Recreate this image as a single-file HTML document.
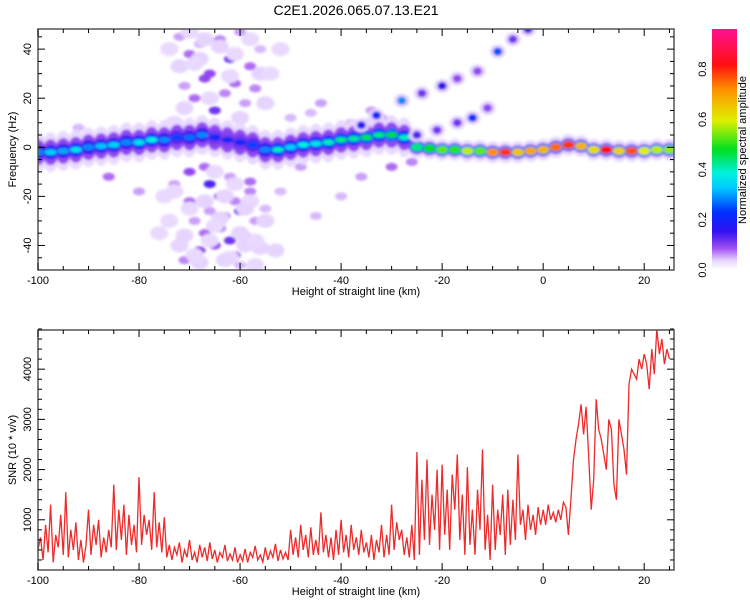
<!DOCTYPE html>
<html><head><meta charset="utf-8">
<style>
html,body{margin:0;padding:0;background:#fff;}
svg text{font-family:"Liberation Sans",sans-serif;}
</style></head>
<body>
<svg id="chart" width="750" height="600" viewBox="0 0 750 600" xmlns="http://www.w3.org/2000/svg">
<defs>
<clipPath id="clipTop"><rect x="38" y="29" width="636" height="241"/></clipPath>
<clipPath id="clipBot"><rect x="38" y="330" width="636" height="240"/></clipPath>
<filter id="blur1" x="-50%" y="-50%" width="200%" height="200%"><feGaussianBlur stdDeviation="1.3"/></filter>
<linearGradient id="cbar" x1="0" y1="1" x2="0" y2="0">
<stop offset="0" stop-color="#ffffff"/><stop offset="0.04" stop-color="#e6d4ff"/><stop offset="0.09" stop-color="#a050f0"/>
<stop offset="0.16" stop-color="#3010f0"/><stop offset="0.24" stop-color="#0030ff"/><stop offset="0.34" stop-color="#00c8ff"/>
<stop offset="0.4" stop-color="#00f0e0"/><stop offset="0.5" stop-color="#00e020"/><stop offset="0.62" stop-color="#e0f000"/>
<stop offset="0.75" stop-color="#ff9000"/><stop offset="0.85" stop-color="#ff1010"/><stop offset="1" stop-color="#ff1090"/>
</linearGradient>
</defs>
<text x="356" y="15" font-size="14" text-anchor="middle">C2E1.2026.065.07.13.E21</text>
<g id="topPanel"></g>
<g id="bot"></g>
<g id="cb"></g>
</svg>
<script>
// ---- data ----
const ridgeKm   = [-100,-97.5,-95,-92.5,-90,-87.5,-85,-82.5,-80,-77.5,-75,-72.5,-70,-67.5,-65,-62.5,-60,-57.5,-55,-52.5,-50,-47.5,-45,-42.5,-40,-37.5,-35,-32.5,-30,-27.5,-25,-22.5,-20,-17.5,-15,-12.5,-10,-7.5,-5,-2.5,0,2.5,5,7.5,10,12.5,15,17.5,20,22.5,25];
const ridgeHz   = [-2,-2,-1.5,-1,0,0.5,1,2,2,3,3,4,4,5,4,3,2,1,-1,-1,0,1,1.5,2,3,3.5,4,5,5,4,0,-0.5,-1,-1,-1.5,-1.5,-2,-2,-2,-1.5,-1,0,1,0.5,-1,-1,-1.5,-1.5,-1.5,-1,-1];
const ridgeAmp  = [0.3,0.35,0.32,0.38,0.3,0.34,0.36,0.3,0.38,0.4,0.3,0.25,0.28,0.3,0.22,0.2,0.22,0.25,0.3,0.42,0.35,0.4,0.38,0.42,0.45,0.44,0.48,0.45,0.5,0.42,0.45,0.5,0.55,0.52,0.6,0.55,0.75,0.82,0.68,0.72,0.7,0.78,0.82,0.7,0.65,0.85,0.66,0.8,0.62,0.6,0.58];
const harmKm  = [-36,-33,-28,-24,-20,-17,-13,-9,-6,-3,-25,-21,-17,-14,-11];
const harmHz  = [9,13,19,22,25,28,31,39,44,48,5,7,10,12,16];
const harmAmp = [0.18,0.22,0.3,0.12,0.16,0.1,0.1,0.26,0.12,0.14,0.14,0.12,0.12,0.24,0.1];
const noiseKm  = [-72,-70,-68,-66,-64,-62,-60,-58,-56,-71,-69,-67,-65,-63,-61,-59,-57,-73,-70,-66,-64,-62,-60,-58,-69,-67,-65,-63,-61,-59,-71,-68,-66,-64,-62,-60,-57,-70,-67,-63,-61,-58,-55,-52,-48,-45,-40,-36,-50,-44,-38,-34,-86,-92,-80,-98,-30,-26,-32,-46,
 -74,-72,-70,-68,-66,-64,-62,-60,-58,-56,-74,-72,-70,-68,-66,-64,-62,-60,-58,-56,-73,-71,-69,-67,-65,-63,-61,-59,-57,-55,-73,-71,-69,-67,-65,-63,-61,-59,-57,-55,-54,-53,-52,-75,-76];
const noiseHz  = [45,38,42,30,44,36,47,33,40,25,20,28,15,22,26,18,24,-15,-22,-15,-20,-12,-26,-18,-30,-35,-40,-28,-44,-36,-46,-42,-26,-33,-38,-48,-30,-10,-8,-20,-22,-14,-25,-18,-8,-28,-20,-12,12,18,10,15,-12,8,-18,-6,-8,-6,12,14,
 40,33,47,36,20,41,29,12,44,30,-30,-40,-25,-47,-38,-29,-45,-35,-22,-41,10,16,34,44,-10,-20,38,-40,-48,18,-18,-36,-44,-22,-32,-46,-15,-25,-38,-30,30,-42,40,-20,-35];
const noiseAmp = [0.06,0.08,0.05,0.1,0.07,0.12,0.06,0.08,0.05,0.06,0.08,0.1,0.12,0.07,0.08,0.06,0.07,0.06,0.08,0.14,0.1,0.06,0.12,0.07,0.06,0.08,0.1,0.06,0.08,0.06,0.07,0.1,0.06,0.08,0.12,0.05,0.06,0.1,0.08,0.06,0.07,0.08,0.05,0.05,0.06,0.05,0.05,0.06,0.05,0.06,0.05,0.06,0.08,0.05,0.06,0.05,0.08,0.07,0.06,0.05,
 0.035,0.04,0.035,0.04,0.035,0.04,0.035,0.04,0.035,0.04,0.035,0.04,0.035,0.04,0.035,0.04,0.035,0.04,0.035,0.04,0.035,0.04,0.035,0.04,0.035,0.04,0.035,0.04,0.035,0.04,0.035,0.04,0.035,0.04,0.035,0.04,0.035,0.04,0.035,0.04,0.035,0.04,0.035,0.035,0.035];
const snrStart = -100, snrStep = 0.5;
const snrVals = [
400,650,200,900,350,1300,150,700,450,1100,
300,1550,250,800,400,950,200,600,150,500,
1200,300,900,500,1000,250,650,350,800,450,
1700,400,1200,600,1300,300,1100,500,900,350,
1850,500,1100,700,1000,400,1550,450,950,350,
1050,250,500,200,450,300,550,150,400,250,
600,200,350,150,500,250,450,180,550,220,
400,150,350,250,500,180,320,200,450,150,
300,180,420,150,350,250,480,200,300,160,
450,200,380,250,520,180,400,220,350,200,
800,300,650,250,900,400,700,250,850,300,
600,300,1150,350,700,250,650,200,800,300,
1000,350,700,250,900,400,650,300,800,350,
550,250,700,200,600,350,900,250,700,300,
1300,400,950,600,800,300,650,250,900,200,
2350,300,1800,600,2200,500,1500,800,2000,400,
2100,700,1600,400,1900,1200,2300,600,1500,300,
2050,500,1200,300,1600,800,2400,400,1100,200,
1700,400,1200,700,1500,300,1600,500,1400,600,
2300,900,1200,600,1300,800,1100,700,1250,900,
1200,900,1300,1000,1150,950,1200,1000,1350,1250,
700,1400,2200,2600,2900,3300,2700,3250,2300,1200,
1800,3400,2800,2600,2300,2000,3000,2800,1700,1400,
3000,2700,2400,1900,3700,4000,3900,3800,4200,4000,
4300,4100,3600,4400,3900,4800,4300,4600,4100,4400,
4200];
const xTicks = [-100,-80,-60,-40,-20,0,20];
const fTicks = [-40,-20,0,20,40];
const snrTicks = [1000,2000,3000,4000];
const cbTicks = [0.0,0.2,0.4,0.6,0.8];

// ---- scales ----
const NS="http://www.w3.org/2000/svg";
const X0=38,X1=674, KM0=-100, KM1=25.9;
const xs = km => X0+(km-KM0)*(X1-X0)/(KM1-KM0);
const yf = f => 270-(f+50)*(241/98.2);
const ys = v => 570-v*(240/4780);
const cmap = [[0,[255,255,255]],[0.04,[230,212,255]],[0.09,[160,80,240]],[0.16,[48,16,240]],[0.24,[0,48,255]],[0.34,[0,200,255]],[0.4,[0,240,224]],[0.5,[0,224,32]],[0.62,[224,240,0]],[0.75,[255,144,0]],[0.85,[255,16,16]],[1,[255,16,144]]];
function col(a){for(let i=1;i<cmap.length;i++){if(a<=cmap[i][0]){const p=cmap[i-1][0],c0=cmap[i-1][1],q=cmap[i][0],c1=cmap[i][1];const t=(a-p)/(q-p);return 'rgb('+c0.map((v,k)=>Math.round(v+(c1[k]-v)*t)).join(',')+')';}}return 'rgb(255,16,144)';}
function mk(tag,attrs,parent){const e=document.createElementNS(NS,tag);for(const k in attrs)e.setAttribute(k,attrs[k]);parent.appendChild(e);return e;}

// ---- top spectrogram ----
const topG=document.getElementById('topPanel');
const heat=mk('g',{'clip-path':'url(#clipTop)',filter:'url(#blur1)'},topG);


noiseKm.forEach((k,i)=>{const big=noiseAmp[i]<0.045;const e=mk('ellipse',{cx:xs(k),cy:yf(noiseHz[i]),rx:big?9:6,ry:big?7:4,fill:col(noiseAmp[i])},heat);

});
ridgeKm.forEach((k,i)=>{const L=k<-26;const e=mk('ellipse',{cx:xs(k),cy:yf(ridgeHz[i]),rx:9,ry:L?20:11,fill:col(0.035)},heat);

});
ridgeKm.forEach((k,i)=>{const L=k<-26;const e=mk('ellipse',{cx:xs(k),cy:yf(ridgeHz[i]),rx:8,ry:L?13:7,fill:col(0.1)},heat);

});
ridgeKm.forEach((k,i)=>{const L=k<-26;const e=mk('ellipse',{cx:xs(k),cy:yf(ridgeHz[i]),rx:7.5,ry:L?7:5.5,fill:col(Math.min(ridgeAmp[i]*0.55,0.3))},heat);

});
ridgeKm.forEach((k,i)=>{const L=k<-26;const e=mk('ellipse',{cx:xs(k),cy:yf(ridgeHz[i]),rx:6,ry:L?3:4,fill:col(ridgeAmp[i])},heat);

});
harmKm.forEach((k,i)=>{mk('ellipse',{cx:xs(k),cy:yf(harmHz[i]),rx:8,ry:7,fill:col(0.04)},heat);
const e=mk('ellipse',{cx:xs(k),cy:yf(harmHz[i]),rx:4.5,ry:4,fill:col(harmAmp[i])},heat);

});

function frame(g,y0,y1,yTicks,yMap,minorY,yLabel,ylx){
  mk('rect',{x:X0,y:y0,width:X1-X0,height:y1-y0,fill:'none',stroke:'#555','stroke-width':1.5},g);
  for(let k=-100;k<=25;k+=5){const major=k%20===0;const x=xs(k);
    mk('line',{x1:x,x2:x,y1:y1,y2:y1-(major?7:4),stroke:'#000'},g);
    mk('line',{x1:x,x2:x,y1:y0,y2:y0+(major?7:4),stroke:'#000'},g);}
  xTicks.forEach(k=>{const t=mk('text',{x:xs(k),y:y1+14,'font-size':11,'text-anchor':'middle'},g);t.textContent=k;
    
    });
  minorY.forEach(v=>{const y=yMap(v);const major=yTicks.includes(v);
    mk('line',{x1:X0,x2:X0+(major?7:4),y1:y,y2:y,stroke:'#000'},g);
    mk('line',{x1:X1,x2:X1-(major?7:4),y1:y,y2:y,stroke:'#000'},g);});
  yTicks.forEach(v=>{const y=yMap(v);const t=mk('text',{x:0,y:0,'font-size':11,'text-anchor':'middle',transform:`translate(${ylx},${y}) rotate(-90)`},g);t.textContent=v;
    
    });
  const xl=mk('text',{x:356,y:y1+25,'font-size':11,'text-anchor':'middle'},g);xl.textContent='Height of straight line (km)';
  
  
  const yl=mk('text',{x:0,y:0,'font-size':11,'text-anchor':'middle',transform:`translate(16,${(y0+y1)/2}) rotate(-90)`},g);yl.textContent=yLabel;
  
  
}
const fMinor=[];for(let f=-45;f<=45;f+=5)fMinor.push(f);
frame(topG,29,270,fTicks,yf,fMinor,'Frequency (Hz)',31);

// ---- bottom SNR ----
const bot=document.getElementById('bot');
let d='';snrVals.forEach((v,i)=>{d+=(i?'L':'M')+xs(snrStart+i*snrStep).toFixed(1)+','+ys(v).toFixed(1);});
const ln=mk('path',{d:d,fill:'none',stroke:'#ee2a2a','stroke-width':1.3,'clip-path':'url(#clipBot)'},bot);


const sMinor=[];for(let v=200;v<=4800;v+=200)sMinor.push(v);
frame(bot,330,570,snrTicks,ys,sMinor,'SNR (10 * v/v)',31);

// ---- colorbar ----
const cb=document.getElementById('cb');
const cr=mk('rect',{x:712,y:29,width:25,height:241,fill:'url(#cbar)'},cb);


cbTicks.forEach(v=>{const y=270-v*241/0.96;const t=mk('text',{x:0,y:0,'font-size':11,'text-anchor':'middle',transform:`translate(706,${y}) rotate(-90)`},cb);t.textContent=v.toFixed(1);
  
  });
const ct=mk('text',{x:0,y:0,'font-size':11,'text-anchor':'middle',transform:'translate(746,150) rotate(-90)'},cb);ct.textContent='Normalized spectral amplitude';


</script>
</body></html>
